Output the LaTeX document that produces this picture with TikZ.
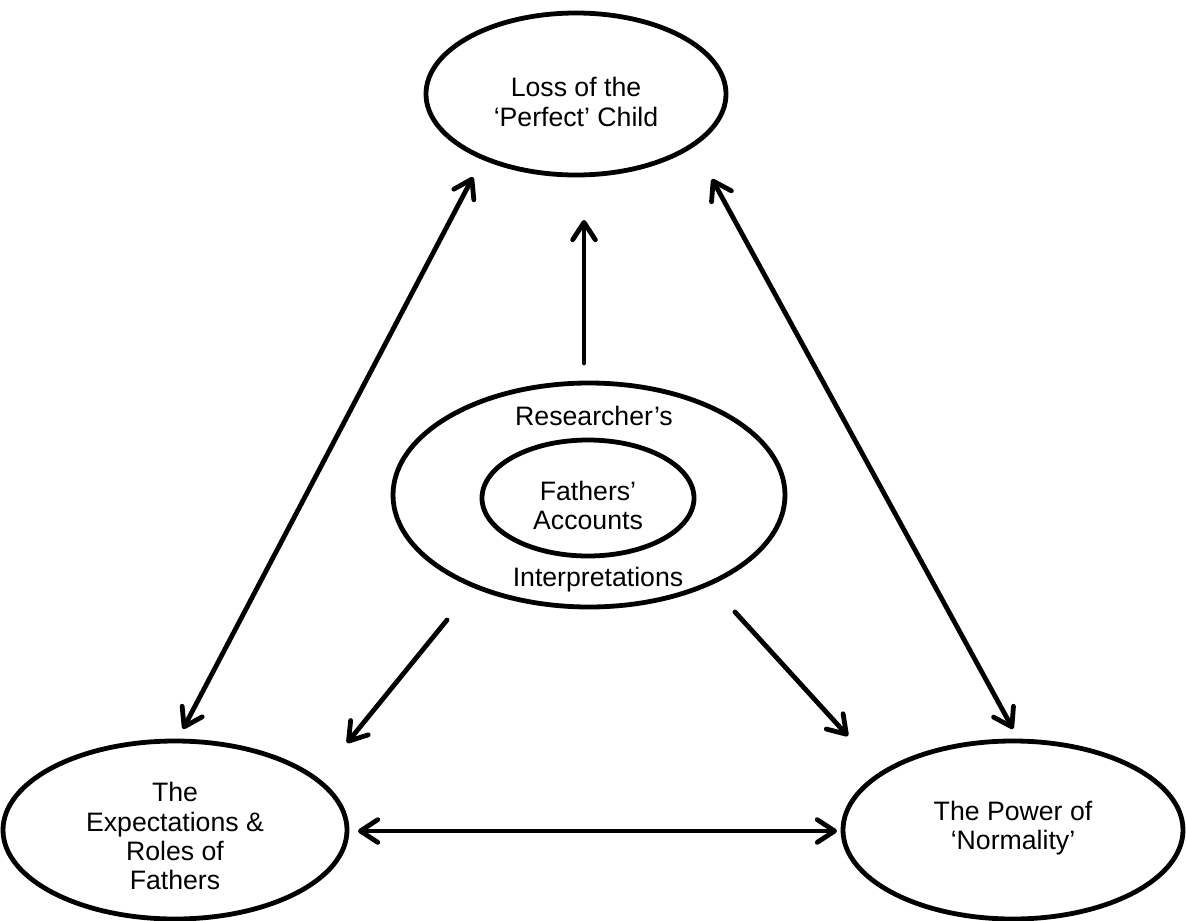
\documentclass[tikz,border=0pt]{standalone}
\usepackage{fontspec}
\setmainfont{Liberation Sans}
\usetikzlibrary{shapes.geometric,arrows.meta}
\begin{document}
\begin{tikzpicture}[x=0.75pt,y=-0.75pt,
  ell/.style={ellipse,draw,line width=3.6pt,inner sep=0pt},
  lbl/.style={align=center,inner sep=0pt,font=\fontsize{20}{21.8}\selectfont},
  tip/.tip={Straight Barb[length=13pt,width=17pt,line cap=round,round]},
  conn/.style={line width=3.6pt,line cap=round,-tip},
  dconn/.style={line width=3.6pt,line cap=round,tip-tip}]
\useasboundingbox (0,0) rectangle (1186,921);
% ellipses
\node[ell,minimum width=225pt,minimum height=121.5pt] (top) at (576,94) {};
\node[ell,minimum width=294pt,minimum height=168pt] (outer) at (589,495) {};
\node[ell,minimum width=159pt,minimum height=87pt] (inner) at (588,498) {};
\node[ell,minimum width=258pt,minimum height=133.5pt] (bl) at (175,830) {};
\node[ell,minimum width=255pt,minimum height=133.5pt] (br) at (1013,830) {};
% labels
\node[lbl] (ttop) at (576,102) {Loss of the\\‘Perfect’ Child};
\node[lbl] (tres) at (594,416) {Researcher’s};
\node[lbl] (tinner) at (588,505) {Fathers’\\Accounts};
\node[lbl] (tint) at (598,580) {Interpretations};
\node[lbl] (tbl) at (175,836) {The\\Expectations \&\\Roles of\\Fathers};
\node[lbl] (tbr) at (1013,828) {The Power of\\‘Normality’};
% connector ends
\coordinate (a1) at (473,177);
\coordinate (a2) at (183,729);
\coordinate (b1) at (712,179);
\coordinate (b2) at (1013,729);
\coordinate (c1) at (584,363);
\coordinate (c2) at (584,220);
\coordinate (d1) at (447,620);
\coordinate (d2) at (347,743);
\coordinate (e1) at (735,612);
\coordinate (e2) at (848,736);
\coordinate (f1) at (358,831);
\coordinate (f2) at (837,831);
% connectors
\draw[dconn] (a1) -- (a2);
\draw[dconn] (b1) -- (b2);
\draw[conn] (c1) -- (c2);
\draw[conn] (d1) -- (d2);
\draw[conn] (e1) -- (e2);
\draw[dconn] (f1) -- (f2);
\end{tikzpicture}
\end{document}
